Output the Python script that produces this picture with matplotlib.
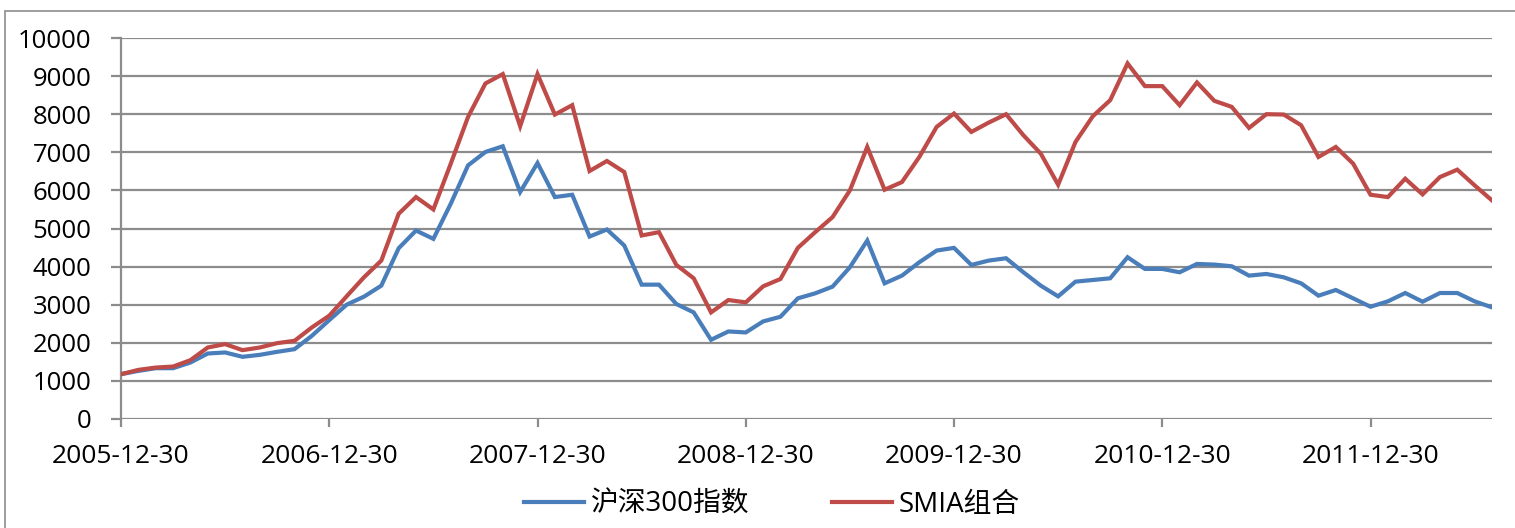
import matplotlib
matplotlib.use("Agg")
import matplotlib.pyplot as plt
from matplotlib.patches import Rectangle
import pandas as pd

plt.rcParams['font.family'] = ['Open Sans', 'Noto Sans CJK SC', 'DejaVu Sans']

# monthly dates 2005-12 .. 2012-07
dates = pd.date_range("2005-12-31", periods=80, freq="ME")
tick_labels = ["2005-12-30", "2006-12-30", "2007-12-30", "2008-12-30",
               "2009-12-30", "2010-12-30", "2011-12-30"]
tick_index = [0, 12, 24, 36, 48, 60, 72]

hs300 = [1176, 1263, 1333, 1333, 1482, 1719, 1746, 1632, 1684, 1763,
         1833, 2184, 2596, 3000, 3211, 3500, 4482, 4947, 4728, 5649,
         6658, 7009, 7158, 5956, 6719, 5825, 5886, 4789, 4974, 4553,
         3526, 3526, 3018, 2798, 2079, 2298, 2272, 2561, 2684, 3167,
         3298, 3474, 3982, 4684, 3561, 3763, 4114, 4421, 4491, 4044,
         4158, 4219, 3851, 3500, 3219, 3605, 3649, 3693, 4246, 3939,
         3939, 3851, 4070, 4053, 4009, 3763, 3807, 3719, 3561, 3237,
         3386, 3167, 2947, 3088, 3307, 3079, 3307, 3307, 3088, 2930]

smia = [1176, 1289, 1350, 1377, 1544, 1877, 1965, 1807, 1877, 1991,
        2053, 2404, 2711, 3219, 3719, 4158, 5386, 5825, 5500, 6700,
        7930, 8807, 9053, 7684, 9053, 7991, 8237, 6509, 6772, 6482,
        4816, 4904, 4044, 3693, 2798, 3123, 3061, 3482, 3675, 4491,
        4904, 5298, 6000, 7140, 6018, 6219, 6877, 7667, 8018, 7535,
        7780, 8000, 7447, 6965, 6149, 7272, 7947, 8368, 9333, 8737,
        8737, 8237, 8833, 8351, 8193, 7640, 8000, 7991, 7711, 6877,
        7140, 6702, 5886, 5825, 6307, 5895, 6351, 6544, 6132, 5737]

series_names = ["沪深300指数", "SMIA组合"]
colors = ["#4A7EBB", "#BE4B48"]
grid_c = "#8C8C8C"

W, H = 1515, 528
fig = plt.figure(figsize=(W / 100, H / 100), dpi=100)
ax = fig.add_axes([121 / W, 1 - 419 / H, (1492 - 121) / W, (419 - 38) / H])

x = list(range(len(dates)))
ax.plot(x, hs300, color=colors[0], lw=3.0, label=series_names[0],
        solid_joinstyle='miter', zorder=3)
ax.plot(x, smia, color=colors[1], lw=3.0, label=series_names[1],
        solid_joinstyle='miter', zorder=3)

ax.set_xlim(0, len(dates) - 1)
ax.set_ylim(0, 10000)
ax.set_yticks(range(0, 10001, 1000))
ax.set_xticks(tick_index)
ax.set_xticklabels(tick_labels)
ax.yaxis.grid(True, color=grid_c, lw=1.6)
ax.set_axisbelow(True)
for s in ["top", "right", "bottom"]:
    ax.spines[s].set_visible(False)
ax.spines["left"].set_color(grid_c)
ax.spines["left"].set_linewidth(1.6)
ax.tick_params(axis="y", length=7.2, width=1.6, color=grid_c, pad=14,
               labelsize=18.5, labelcolor="black")
ax.tick_params(axis="x", length=5.8, width=1.6, color=grid_c, pad=12,
               labelsize=19, labelcolor="black")

fig.legend(loc="center", bbox_to_anchor=(772 / W, 1 - 505 / H), ncol=2,
           frameon=False, fontsize=20, handlelength=2.15, handletextpad=0.25,
           columnspacing=3.0)

fig.patches.append(Rectangle((5 / W, -0.1), 1.2, (1 - 11 / H) + 0.1,
                             transform=fig.transFigure, fill=False,
                             edgecolor="#8C8C8C", lw=1.2))

fig.savefig("out.png", dpi=100)
